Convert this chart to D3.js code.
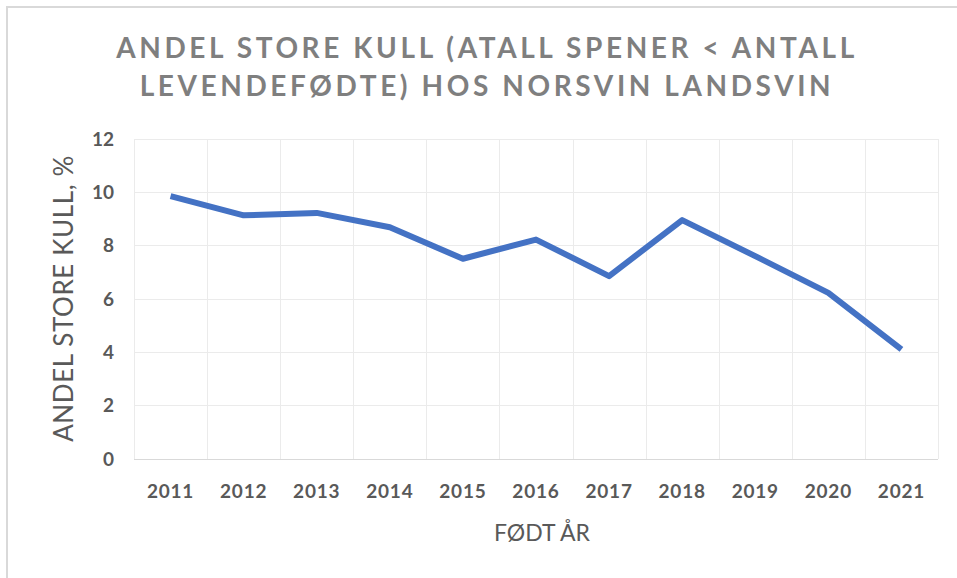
<!DOCTYPE html>
<html>
<head>
<meta charset="utf-8">
<script src="https://cdn.jsdelivr.net/npm/d3@7"></script>
<style>
  html, body { margin: 0; padding: 0; background: #fff; }
  svg { display: block; font-family: Lato, "Open Sans", sans-serif; }
</style>
</head>
<body>
<svg id="chart" width="957" height="578"></svg>
<script>
(function () {
  'use strict';

  var years = ['2011', '2012', '2013', '2014', '2015', '2016', '2017', '2018', '2019', '2020', '2021'];
  var share = [9.84, 9.12, 9.21, 8.67, 7.49, 8.21, 6.84, 8.94, 7.59, 6.21, 4.09];
  var yTicks = [0, 2, 4, 6, 8, 10, 12];
  var titleLines = ['ANDEL STORE KULL (ATALL SPENER < ANTALL', 'LEVENDEFØDTE) HOS NORSVIN LANDSVIN'];

  var W = 957, H = 578;
  var plot = { left: 134, right: 938, top: 138.5, bottom: 458.5 };
  var TEXT = '#595959';

  var svg = d3.select('#chart');

  // outer chart border (only top and left show in the crop)
  svg.append('path')
    .attr('d', 'M7,' + H + 'V7H' + W)
    .attr('fill', 'none')
    .attr('stroke', '#d9d9d9')
    .attr('stroke-width', 2);

  var x = d3.scaleBand().domain(years).range([plot.left, plot.right]).padding(0);
  var y = d3.scaleLinear().domain([0, 12]).range([plot.bottom, plot.top]);

  // ── Gridlines ───────────────────────────────────────────────────────────────

  var grid = svg.append('g').attr('shape-rendering', 'crispEdges');

  grid.selectAll('line.h')
    .data(yTicks)
    .join('line')
    .attr('class', 'h')
    .attr('x1', plot.left).attr('x2', plot.right)
    .attr('y1', function (d) { return Math.round(y(d)) + 0.5; })
    .attr('y2', function (d) { return Math.round(y(d)) + 0.5; })
    .attr('stroke', function (d) { return d === 0 ? '#d9d9d9' : '#ebebeb'; })
    .attr('stroke-width', function (d) { return d === 0 ? 1.5 : 1.2; });

  var bounds = years.map(function (yr) { return x(yr); }).concat([plot.right]);
  grid.selectAll('line.v')
    .data(bounds)
    .join('line')
    .attr('class', 'v')
    .attr('x1', function (d) { return Math.round(d) + 0.5; })
    .attr('x2', function (d) { return Math.round(d) + 0.5; })
    .attr('y1', plot.top).attr('y2', plot.bottom)
    .attr('stroke', '#ebebeb')
    .attr('stroke-width', 1.2);

  // ── Axes ────────────────────────────────────────────────────────────────────

  var yAxis = svg.append('g')
    .attr('transform', 'translate(' + (plot.left - 20) + ',0)')
    .call(d3.axisLeft(y).tickValues(yTicks).tickSize(0).tickPadding(0));
  yAxis.select('.domain').remove();
  yAxis.selectAll('text')
    .attr('fill', TEXT)
    .attr('font-size', 19)
    .attr('font-weight', 700)
    .attr('font-family', 'Lato, sans-serif')
    .attr('dy', '0.35em');

  var xAxis = svg.append('g')
    .attr('transform', 'translate(0,' + plot.bottom + ')')
    .call(d3.axisBottom(x).tickSize(0).tickPadding(0));
  xAxis.select('.domain').remove();
  xAxis.selectAll('text')
    .attr('fill', TEXT)
    .attr('font-size', 19)
    .attr('font-weight', 700)
    .attr('letter-spacing', 0.8)
    .attr('font-family', 'Lato, sans-serif')
    .attr('y', 33)
    .attr('dy', '0.35em');

  // ── Line ────────────────────────────────────────────────────────────────────

  var line = d3.line()
    .x(function (d, i) { return x(years[i]) + x.bandwidth() / 2; })
    .y(function (d) { return y(d); });

  svg.append('path')
    .datum(share)
    .attr('d', line)
    .attr('fill', 'none')
    .attr('stroke', '#4472c4')
    .attr('stroke-width', 6)
    .attr('stroke-linejoin', 'round')
    .attr('stroke-linecap', 'butt');

  // ── Titles ──────────────────────────────────────────────────────────────────

  svg.append('g')
    .selectAll('text')
    .data(titleLines)
    .join('text')
    .attr('x', 487)
    .attr('y', function (d, i) { return 48 + i * 38; })
    .attr('dy', '0.35em')
    .attr('text-anchor', 'middle')
    .attr('fill', '#7f7f7f')
    .attr('font-size', 28)
    .attr('font-weight', 700)
    .attr('letter-spacing', 3.6)
    .text(function (d) { return d; });

  svg.append('text')
    .attr('x', (plot.left + plot.right) / 2 + 6)
    .attr('y', 533)
    .attr('dy', '0.35em')
    .attr('text-anchor', 'middle')
    .attr('fill', TEXT)
    .attr('font-size', 23)
    .text('FØDT ÅR');

  svg.append('text')
    .attr('transform', 'translate(64,' + ((plot.top + plot.bottom) / 2) + ') rotate(-90)')
    .attr('dy', '0.35em')
    .attr('text-anchor', 'middle')
    .attr('fill', TEXT)
    .attr('font-size', 26)
    .attr('letter-spacing', 0.6)
    .text('ANDEL STORE KULL, %');
})();
</script>
</body>
</html>
